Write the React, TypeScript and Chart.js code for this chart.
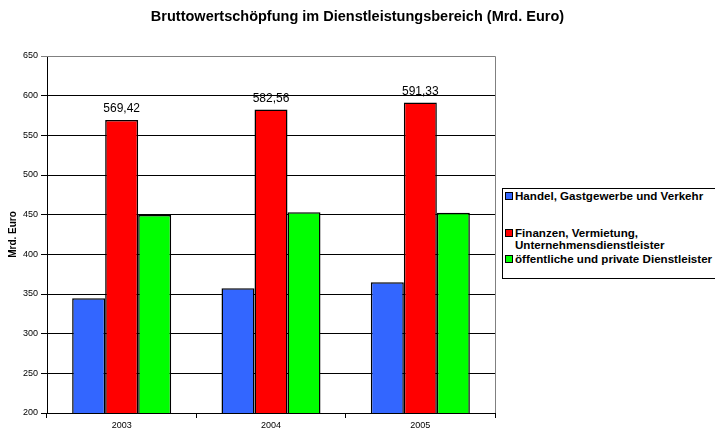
import { Chart, registerables } from "chart.js";
import React, { useEffect, useRef } from "react";

Chart.register(...registerables);

const years = ["2003", "2004", "2005"];
const seriesNames = [
  "Handel, Gastgewerbe und Verkehr",
  "Finanzen, Vermietung,\nUnternehmensdienstleister",
  "öffentliche und private Dienstleister",
];
const handel = [344.7, 357.3, 364.8];
const finanzen = [569.42, 582.56, 591.33];
const oeffentlich = [449.5, 453.2, 452.4];
const seriesColors = ["#3366ff", "#ff0000", "#00ff00"];
const chartTitle = "Bruttowertschöpfung im Dienstleistungsbereich (Mrd. Euro)";

const FONT = "'Liberation Sans', Arial, sans-serif";

// value labels above the red bars
const valueLabels = {
  id: "valueLabels",
  afterDatasetsDraw(chart: any) {
    const ctx = chart.ctx;
    const meta = chart.getDatasetMeta(1);
    ctx.save();
    ctx.font = `12px ${FONT}`;
    ctx.fillStyle = "#000";
    ctx.textAlign = "center";
    ctx.textBaseline = "bottom";
    meta.data.forEach((bar: any, i: number) => {
      const v = chart.data.datasets[1].data[i] as number;
      ctx.fillText(v.toFixed(2).replace(".", ","), bar.x, bar.y - 5);
    });
    ctx.restore();
  },
};

// title centred on the whole canvas, gray frame on top/right of the plot
const frameAndTitle = {
  id: "frameAndTitle",
  afterDraw(chart: any) {
    const { ctx, chartArea } = chart;
    ctx.save();
    ctx.strokeStyle = "#808080";
    ctx.lineWidth = 1;
    ctx.beginPath();
    ctx.moveTo(chartArea.left, chartArea.top + 0.5);
    ctx.lineTo(chartArea.right + 0.5, chartArea.top + 0.5);
    ctx.lineTo(chartArea.right + 0.5, chartArea.bottom);
    ctx.stroke();

    ctx.font = `bold 14.5px ${FONT}`;
    ctx.fillStyle = "#000";
    ctx.textAlign = "center";
    ctx.textBaseline = "middle";
    ctx.fillText(chartTitle, chart.width / 2, 17);
    ctx.restore();
  },
};

const Legend: React.FC = () => {
  const tops = [1, 38, 64];
  return (
    <div
      style={{
        position: "absolute",
        left: 502,
        top: 188,
        width: 230,
        height: 89,
        border: "1px solid #000",
        background: "#fff",
        fontFamily: FONT,
        fontSize: 11.6,
        fontWeight: "bold",
        lineHeight: "12px",
        color: "#000",
      }}
    >
      {seriesNames.map((name, i) => (
        <div
          key={name}
          style={{ position: "absolute", left: 2, top: tops[i], whiteSpace: "pre" }}
        >
          <span
            style={{
              position: "absolute",
              left: 0,
              top: 2,
              width: 6,
              height: 6,
              border: "1px solid #000",
              background: seriesColors[i],
            }}
          />
          <div style={{ marginLeft: 10 }}>{name}</div>
        </div>
      ))}
    </div>
  );
};

const App: React.FC = () => {
  const chartRef = useRef<HTMLCanvasElement>(null);

  useEffect(() => {
    if (!chartRef.current) return;
    const ctx = chartRef.current.getContext("2d");
    if (!ctx) return;
    const values = [handel, finanzen, oeffentlich];
    const chart = new Chart(ctx, {
      type: "bar",
      data: {
        labels: years,
        datasets: values.map((d, i) => ({
          label: seriesNames[i],
          data: d,
          backgroundColor: seriesColors[i],
          borderColor: "#000",
          borderWidth: 1.5,
          borderSkipped: false,
          barPercentage: 1,
          categoryPercentage: 0.663,
        })),
      },
      options: {
        responsive: false,
        animation: false,
        layout: { padding: { left: 0, right: 220, top: 56, bottom: 0 } },
        plugins: {
          legend: { display: false },
          tooltip: { enabled: false },
          title: { display: false },
        },
        scales: {
          x: {
            grid: {
              display: true,
              drawOnChartArea: false,
              drawTicks: true,
              tickLength: 5,
              color: "#000",
              offset: true,
            },
            border: { color: "#000" },
            ticks: {
              color: "#000",
              font: { family: FONT, size: 9 },
              padding: 2,
            },
            afterFit: (scale: any) => {
              scale.height = 27;
            },
          },
          y: {
            min: 200,
            max: 650,
            ticks: {
              stepSize: 50,
              color: "#000",
              font: { family: FONT, size: 9 },
              padding: 3,
            },
            grid: {
              color: (c: any) => (c.tick && c.tick.value === 650 ? "#808080" : "#000"),
              tickLength: 6,
            },
            border: { color: "#000" },
            title: {
              display: true,
              text: "Mrd. Euro",
              color: "#000",
              font: { family: FONT, size: 10, weight: "bold" },
              padding: { top: 7, bottom: 0 },
            },
            afterFit: (scale: any) => {
              scale.width = 47;
            },
          },
        },
      },
      plugins: [valueLabels, frameAndTitle],
    });
    return () => {
      chart.destroy();
    };
  }, []);

  return (
    <div
      style={{
        position: "fixed",
        left: 0,
        top: 0,
        width: 715,
        height: 440,
        overflow: "hidden",
        background: "#fff",
      }}
    >
      <canvas ref={chartRef} width={715} height={440} />
      <Legend />
    </div>
  );
};

export default App;
